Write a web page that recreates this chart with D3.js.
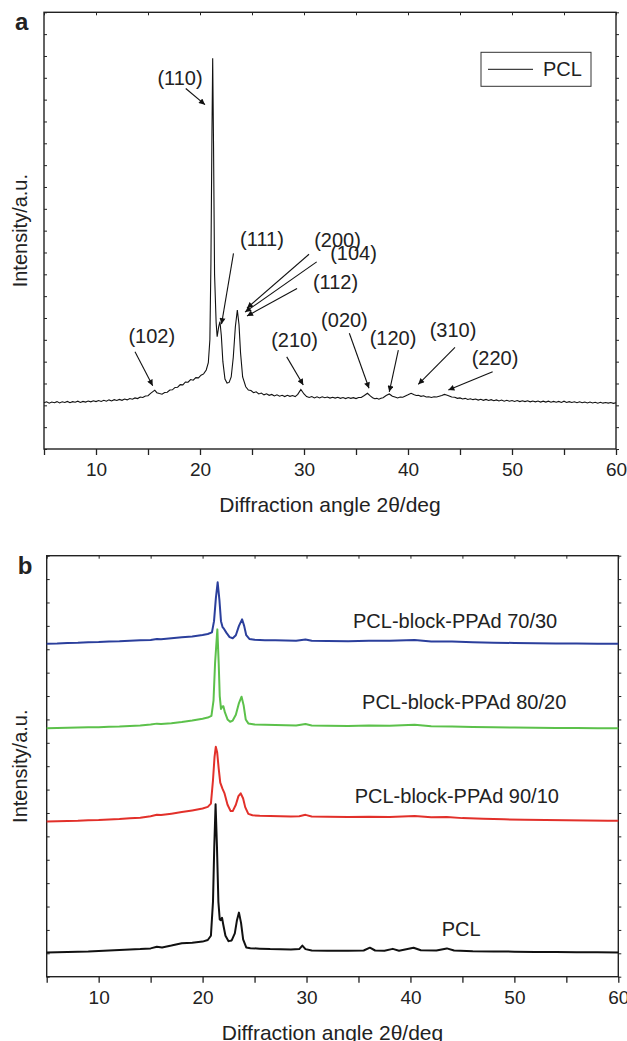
<!DOCTYPE html>
<html>
<head>
<meta charset="utf-8">
<script src="https://cdn.jsdelivr.net/npm/d3@7"></script>
<style>
  body { margin: 0; background: #fff; }
  text { font-family: "Liberation Sans", Arial, Helvetica, sans-serif; fill: #222; }
</style>
</head>
<body>
<div id="chart"></div>
<script>

// panel a : PCL pattern, [2theta, intensity a.u.]
var pclA = [
  [5,2.12],[5.25,2.16],[5.5,2.10],[5.75,2.15],[6,2.12],[6.25,2.17],[6.5,2.11],[6.75,2.16],[7,2.13],[7.25,2.18],
  [7.5,2.12],[7.75,2.17],[8,2.14],[8.25,2.19],[8.5,2.13],[8.75,2.18],[9,2.15],[9.25,2.20],[9.5,2.16],[9.75,2.21],
  [10,2.17],[10.25,2.22],[10.5,2.18],[10.75,2.23],[11,2.19],[11.25,2.25],[11.5,2.20],[11.75,2.26],[12,2.22],[12.25,2.27],
  [12.5,2.23],[12.75,2.29],[13,2.25],[13.25,2.31],[13.5,2.28],[13.75,2.34],[14,2.31],[14.25,2.38],[14.5,2.36],[14.75,2.43],
  [15,2.44],[15.25,2.55],[15.5,2.64],[15.65,2.69],[15.85,2.58],[16.1,2.54],[16.35,2.51],[16.6,2.59],[16.85,2.60],[17.1,2.70],
  [17.35,2.71],[17.6,2.82],[17.85,2.83],[18.1,2.95],[18.35,2.94],[18.6,3.07],[18.85,3.06],[19.1,3.18],[19.35,3.15],[19.6,3.27],
  [19.85,3.26],[20.1,3.38],[20.35,3.44],[20.6,3.62],[20.8,3.95],[20.95,5.0],[21.05,8.5],[21.15,14.5],[21.22,17.9],[21.3,14.0],
  [21.4,8.0],[21.55,5.8],[21.65,5.14],[21.8,5.6],[21.92,5.83],[22.05,5.2],[22.2,4.0],[22.4,3.2],[22.6,3.02],[22.8,3.05],
  [23.0,3.3],[23.2,4.2],[23.4,5.6],[23.59,6.36],[23.75,5.7],[23.9,4.4],[24.1,3.3],[24.4,2.85],[24.65,2.70],[24.9,2.68],
  [25.15,2.58],[25.4,2.62],[25.65,2.52],[25.9,2.56],[26.15,2.48],[26.4,2.53],[26.65,2.46],[26.9,2.50],[27.15,2.43],[27.4,2.48],
  [27.65,2.42],[27.9,2.46],[28.15,2.40],[28.4,2.46],[28.65,2.41],[28.9,2.45],[29.15,2.40],[29.4,2.50],[29.7,2.73],[30,2.52],
  [30.25,2.40],[30.5,2.36],[30.75,2.40],[31,2.34],[31.25,2.39],[31.5,2.34],[31.75,2.39],[32,2.35],[32.25,2.38],[32.5,2.33],
  [32.75,2.37],[33,2.33],[33.25,2.37],[33.5,2.32],[33.75,2.36],[34,2.31],[34.25,2.36],[34.5,2.32],[34.75,2.35],[35,2.31],
  [35.25,2.36],[35.5,2.36],[35.8,2.45],[36.1,2.55],[36.4,2.42],[36.6,2.35],[36.8,2.30],[37,2.32],[37.2,2.28],[37.4,2.32],
  [37.6,2.35],[37.9,2.45],[38.2,2.52],[38.5,2.42],[38.75,2.38],[39,2.34],[39.25,2.38],[39.5,2.37],[39.75,2.43],[40,2.48],
  [40.3,2.55],[40.6,2.48],[40.8,2.45],[41,2.46],[41.25,2.41],[41.5,2.44],[41.75,2.38],[42,2.39],[42.25,2.36],[42.5,2.39],
  [42.75,2.38],[43,2.42],[43.25,2.45],[43.5,2.50],[43.7,2.47],[43.9,2.44],[44.2,2.38],[44.5,2.37],[44.75,2.32],[45,2.34],
  [45.25,2.29],[45.5,2.32],[45.75,2.27],[46,2.30],[46.25,2.26],[46.5,2.29],[46.75,2.24],[47,2.28],[47.25,2.23],[47.5,2.27],
  [47.75,2.22],[48,2.26],[48.25,2.21],[48.5,2.25],[48.75,2.20],[49,2.24],[49.25,2.19],[49.5,2.23],[49.75,2.19],[50,2.22],
  [50.25,2.18],[50.5,2.22],[50.75,2.17],[51,2.21],[51.25,2.17],[51.5,2.21],[51.75,2.16],[52,2.20],[52.25,2.16],[52.5,2.20],
  [52.75,2.15],[53,2.19],[53.25,2.15],[53.5,2.19],[53.75,2.14],[54,2.18],[54.25,2.14],[54.5,2.18],[54.75,2.13],[55,2.19],
  [55.25,2.13],[55.5,2.17],[55.75,2.13],[56,2.16],[56.25,2.12],[56.5,2.16],[56.75,2.12],[57,2.15],[57.25,2.11],[57.5,2.15],
  [57.75,2.11],[58,2.14],[58.25,2.10],[58.5,2.14],[58.75,2.10],[59,2.13],[59.25,2.10],[59.5,2.13],[59.75,2.09],[60,2.12]
];

// miller index labels: text pos and arrow from -> to, in data units
var peakNotes = [
  {t:"(110)", x:18.08, y:16.66, from:[18.63,16.51], to:[20.48,15.77]},
  {t:"(111)", x:25.96, y:9.29,  from:[23.22,8.96],  to:[22.07,5.72]},
  {t:"(200)", x:33.22, y:9.24,  from:[30.48,8.92],  to:[24.52,6.45]},
  {t:"(104)", x:34.76, y:8.65,  from:[31.22,8.57],  to:[24.33,6.27]},
  {t:"(112)", x:33.03, y:7.32,  from:[29.33,7.35],  to:[24.52,6.09]},
  {t:"(102)", x:15.36, y:4.85,  from:[13.75,4.45],  to:[15.45,2.90]},
  {t:"(210)", x:29.09, y:4.67,  from:[28.34,4.22],  to:[29.93,2.93]},
  {t:"(020)", x:33.89, y:5.58,  from:[34.36,5.30],  to:[36.25,2.78]},
  {t:"(120)", x:38.56, y:4.76,  from:[39.07,4.53],  to:[38.20,2.62]},
  {t:"(310)", x:44.33, y:5.13,  from:[44.52,4.65],  to:[40.99,2.96]},
  {t:"(220)", x:48.37, y:3.84,  from:[48.14,3.54],  to:[43.88,2.70]}
];

// panel b : stacked patterns
var pclB = [
  [5,1.04],[6,1.05],[7,1.06],[8,1.07],[9,1.08],[10,1.10],[11,1.12],[12,1.14],[13,1.16],[14,1.18],
  [15,1.21],[15.6,1.28],[16.1,1.25],[17,1.33],[18,1.43],[19,1.45],[20,1.50],[20.5,1.57],[20.8,1.75],[21.0,3.2],
  [21.12,5.5],[21.25,7.37],[21.38,5.6],[21.52,3.2],[21.65,2.45],[21.75,2.42],[21.87,2.52],[22.0,2.2],[22.2,1.75],[22.5,1.52],
  [22.8,1.55],[23.1,1.85],[23.3,2.4],[23.5,2.74],[23.7,2.3],[23.9,1.6],[24.2,1.25],[24.6,1.22],[25.5,1.20],[26.5,1.18],
  [27.5,1.17],[28.5,1.16],[29.3,1.18],[29.6,1.33],[29.9,1.18],[30.5,1.12],[32,1.11],[34,1.11],[35.5,1.12],[36.1,1.24],
  [36.6,1.12],[37.5,1.11],[38.3,1.19],[38.9,1.11],[40.3,1.24],[41,1.13],[42.5,1.12],[43.5,1.21],[44.2,1.12],[46,1.09],
  [48,1.08],[50,1.07],[52,1.06],[54,1.06],[56,1.05],[58,1.05],[60,1.04]
];
var ppad9010 = [
  [5,6.64],[6,6.65],[7,6.66],[8,6.67],[9,6.69],[10,6.70],[11,6.72],[12,6.74],[13,6.77],[14,6.80],
  [15,6.86],[15.6,6.92],[16,6.91],[17,6.97],[18,7.04],[19,7.11],[20,7.19],[20.5,7.26],[20.8,7.40],[21.0,8.4],
  [21.15,9.4],[21.27,9.83],[21.4,9.6],[21.55,8.9],[21.7,8.3],[21.9,8.05],[22.1,7.85],[22.4,7.35],[22.7,7.08],[22.9,7.08],
  [23.2,7.35],[23.45,7.72],[23.67,7.84],[23.9,7.62],[24.1,7.25],[24.4,6.96],[24.8,6.90],[25.5,6.88],[26.5,6.87],[27.5,6.86],
  [28.5,6.85],[29.3,6.86],[29.9,6.92],[30.5,6.85],[32,6.84],[34,6.83],[36,6.84],[38,6.83],[40.4,6.87],[42,6.82],
  [43.5,6.83],[45,6.78],[47,6.75],[49,6.73],[51,6.71],[53,6.70],[55,6.69],[57,6.68],[59,6.67],[60,6.67]
];
var ppad8020 = [
  [5,10.62],[6,10.63],[7,10.64],[8,10.65],[9,10.66],[10,10.67],[11,10.69],[12,10.70],[13,10.72],[14,10.74],
  [15,10.78],[15.6,10.82],[16,10.80],[17,10.84],[18,10.89],[19,10.95],[20,11.03],[20.5,11.08],[20.85,11.15],[21.05,11.8],
  [21.2,13.4],[21.42,14.85],[21.55,13.4],[21.65,12.0],[21.77,11.45],[21.9,11.55],[22.0,11.56],[22.15,11.3],[22.4,11.0],[22.65,10.9],
  [22.9,10.95],[23.2,11.2],[23.5,11.7],[23.75,11.97],[23.95,11.6],[24.15,11.0],[24.4,10.83],[25,10.78],[26,10.77],[27,10.76],
  [28,10.75],[29,10.74],[29.9,10.80],[30.5,10.74],[32,10.73],[34,10.72],[36,10.74],[38,10.73],[40.4,10.77],[42,10.71],
  [44,10.70],[46,10.68],[48,10.66],[50,10.65],[52,10.64],[54,10.63],[56,10.63],[58,10.62],[60,10.62]
];
var ppad7030 = [
  [5,14.24],[6,14.25],[7,14.27],[8,14.28],[9,14.30],[10,14.31],[11,14.33],[12,14.34],[13,14.36],[14,14.38],
  [15,14.40],[15.6,14.44],[16,14.43],[17,14.47],[18,14.51],[19,14.55],[20,14.61],[20.5,14.65],[20.9,14.72],[21.1,15.2],
  [21.28,16.2],[21.45,16.86],[21.62,16.1],[21.77,15.2],[21.92,14.95],[22.05,14.88],[22.3,14.7],[22.6,14.52],[22.9,14.47],[23.2,14.6],
  [23.5,15.0],[23.8,15.28],[24.0,15.0],[24.2,14.6],[24.5,14.44],[25,14.41],[26,14.39],[27,14.38],[28,14.37],[29,14.36],
  [29.9,14.42],[30.5,14.36],[32,14.35],[34,14.34],[36,14.36],[38,14.36],[40.4,14.40],[42,14.33],[44,14.33],[46,14.30],
  [48,14.28],[50,14.27],[52,14.26],[54,14.25],[56,14.25],[58,14.24],[60,14.24]
];

var seriesB = [
  {name:"PCL-block-PPAd 70/30", color:"#2b3f9c", data:ppad7030, lx:44.30, ly:14.91},
  {name:"PCL-block-PPAd 80/20", color:"#5cc14b", data:ppad8020, lx:45.17, ly:11.45},
  {name:"PCL-block-PPAd 90/10", color:"#e2302a", data:ppad9010, lx:44.46, ly:7.43},
  {name:"PCL",                  color:"#111111", data:pclB,     lx:44.88, ly:1.74}
];

var xTicks = [10, 20, 30, 40, 50, 60];
var xMinor = [5, 15, 25, 35, 45, 55];

var svg = d3.select("#chart").append("svg")
  .attr("width", 627).attr("height", 1041);

svg.append("defs").append("marker")
  .attr("id", "head")
  .attr("viewBox", "0 0 10 10")
  .attr("refX", 10).attr("refY", 5)
  .attr("markerWidth", 8).attr("markerHeight", 6)
  .attr("markerUnits", "userSpaceOnUse")
  .attr("orient", "auto")
  .append("path").attr("d", "M0,0 L10,5 L0,10 z").attr("fill", "#111");

function panel(left, right, top, bottom, ymax, letter) {
  var x = d3.scaleLinear().domain([5, 60]).range([left, right]);
  var y = d3.scaleLinear().domain([0, ymax]).range([bottom, top]);
  var g = svg.append("g");

  // bottom axis, labels only on the decades
  g.append("g")
    .attr("transform", "translate(0," + bottom + ")")
    .call(d3.axisBottom(x).tickValues(xTicks.concat(xMinor)).tickSize(6).tickPadding(8)
      .tickFormat(function(d) { return xTicks.indexOf(d) >= 0 ? d : ""; }))
    .call(function(a) {
      a.select(".domain").remove();
      a.selectAll("line").attr("stroke", "#222").attr("stroke-width", 1.3);
      a.selectAll("text").attr("font-size", 19).attr("fill", "#222")
        .attr("font-family", "'Liberation Sans', Arial, sans-serif");
    });

  g.append("g")
    .attr("transform", "translate(0," + top + ")")
    .call(d3.axisTop(x).tickValues(xTicks.concat(xMinor)).tickSize(-3).tickFormat(""))
    .call(function(a) { a.select(".domain").remove(); a.selectAll("line").attr("stroke", "#222"); });

  g.append("g")
    .attr("transform", "translate(" + left + ",0)")
    .call(d3.axisLeft(y).tickValues(d3.range(0, ymax + 1)).tickSize(-3).tickFormat(""))
    .call(function(a) { a.select(".domain").remove(); a.selectAll("line").attr("stroke", "#222"); });

  g.append("g")
    .attr("transform", "translate(" + right + ",0)")
    .call(d3.axisRight(y).tickValues(d3.range(0, ymax + 1)).tickSize(3).tickFormat(""))
    .call(function(a) { a.select(".domain").remove(); a.selectAll("line").attr("stroke", "#222"); });

  g.append("rect")
    .attr("x", left).attr("y", top)
    .attr("width", right - left).attr("height", bottom - top)
    .attr("fill", "none").attr("stroke", "#222").attr("stroke-width", 1.4);

  g.append("text")
    .attr("x", (left + right) / 2).attr("y", bottom + 63)
    .attr("text-anchor", "middle").attr("font-size", 21)
    .text("Diffraction angle 2\u03b8/deg");

  g.append("text")
    .attr("transform", "translate(27," + ((top + bottom) / 2) + ") rotate(-90)")
    .attr("text-anchor", "middle").attr("font-size", 20)
    .text("Intensity/a.u.");

  g.append("text")
    .attr("x", left - 29).attr("y", top + 18)
    .attr("font-size", 24).attr("font-weight", "bold").attr("fill", "#000")
    .text(letter);

  return {x: x, y: y, g: g};
}

// ---- panel a
var pa = panel(44, 616, 12.3, 449, 20, "a");
var lineA = d3.line()
  .x(function(d) { return pa.x(d[0]); })
  .y(function(d) { return pa.y(d[1]); });

pa.g.append("path")
  .datum(pclA)
  .attr("fill", "none").attr("stroke", "#111").attr("stroke-width", 1.1)
  .attr("d", lineA);

pa.g.selectAll(".note").data(peakNotes).enter().append("text")
  .attr("class", "note")
  .attr("x", function(d) { return pa.x(d.x); })
  .attr("y", function(d) { return pa.y(d.y); })
  .attr("text-anchor", "middle").attr("font-size", 20)
  .text(function(d) { return d.t; });

pa.g.selectAll(".arrow").data(peakNotes).enter().append("line")
  .attr("class", "arrow")
  .attr("x1", function(d) { return pa.x(d.from[0]); })
  .attr("y1", function(d) { return pa.y(d.from[1]); })
  .attr("x2", function(d) { return pa.x(d.to[0]); })
  .attr("y2", function(d) { return pa.y(d.to[1]); })
  .attr("stroke", "#111").attr("stroke-width", 1.1)
  .attr("marker-end", "url(#head)");

// legend
var lg = pa.g.append("g").attr("transform", "translate(481,52.3)");
lg.append("rect").attr("width", 110).attr("height", 34)
  .attr("fill", "#fff").attr("stroke", "#333").attr("stroke-width", 1);
lg.append("line").attr("x1", 7).attr("x2", 52).attr("y1", 17).attr("y2", 17)
  .attr("stroke", "#111").attr("stroke-width", 1);
lg.append("text").attr("x", 62).attr("y", 24).attr("font-size", 20).text("PCL");

// ---- panel b
var pb = panel(46.7, 618.3, 555.7, 976.7, 18, "b");
var lineB = d3.line()
  .x(function(d) { return pb.x(d[0]); })
  .y(function(d) { return pb.y(d[1]); });

pb.g.selectAll(".curve").data(seriesB).enter().append("path")
  .attr("class", "curve")
  .attr("fill", "none")
  .attr("stroke", function(d) { return d.color; })
  .attr("stroke-width", 2)
  .attr("stroke-linejoin", "round")
  .attr("d", function(d) { return lineB(d.data); });

pb.g.selectAll(".clabel").data(seriesB).enter().append("text")
  .attr("class", "clabel")
  .attr("x", function(d) { return pb.x(d.lx); })
  .attr("y", function(d) { return pb.y(d.ly); })
  .attr("text-anchor", "middle").attr("font-size", 20)
  .text(function(d) { return d.name; });

</script>
</body>
</html>
